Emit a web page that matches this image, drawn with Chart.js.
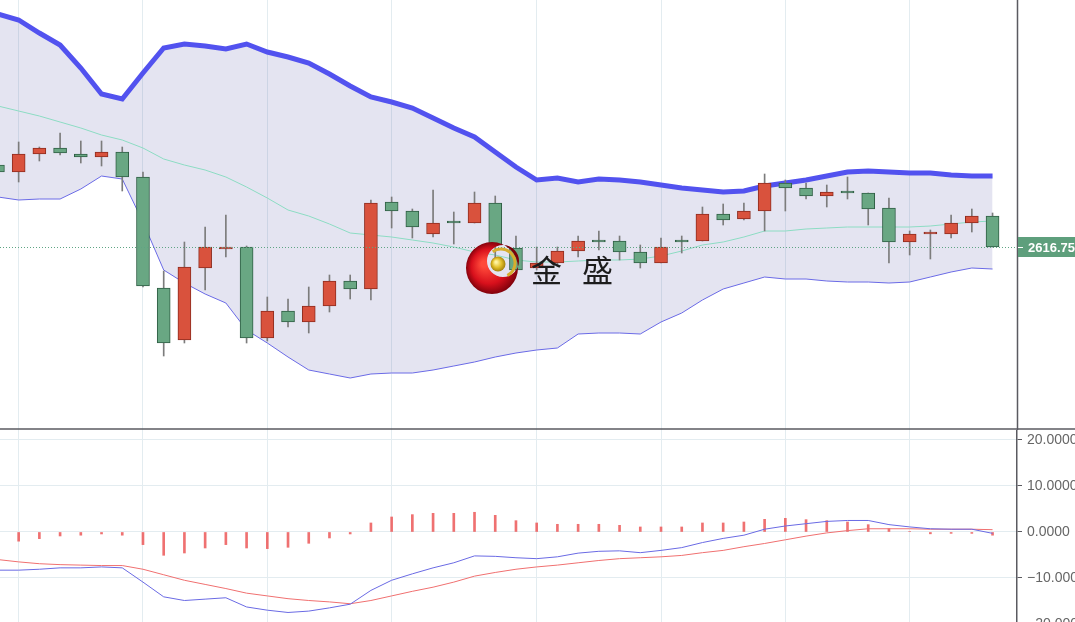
<!DOCTYPE html>
<html>
<head>
<meta charset="utf-8">
<script src="https://cdn.jsdelivr.net/npm/chart.js@4"></script>
<style>
html, body { margin: 0; padding: 0; background: #fff; overflow: hidden; }
#top { position: absolute; left: 0; top: 0; width: 1075px; height: 430px; }
#bot { position: absolute; left: 0; top: 430px; width: 1075px; height: 192px; overflow: hidden; }
</style>
</head>
<body>
<div id="top"><canvas id="price" width="1075" height="430"></canvas></div>
<div id="bot"><canvas id="macd" width="1075" height="200"></canvas></div>
<script>
// candles (red = up, green = down)
const open  = [2657.75,2654.25,2663.25,2666.25,2663.25,2661.75,2664.25,2651.75,2596.25,2570.25,
               2606.25,2615.75,2616.75,2571.25,2584.75,2579.25,2587.25,2599.75,2595.75,2639.25,
               2634.75,2623.25,2629.25,2628.75,2638.75,2616.25,2606.25,2608.75,2614.75,2619.75,
               2619.75,2614.25,2608.75,2619.75,2619.75,2633.25,2630.75,2634.75,2648.75,2646.25,
               2642.25,2644.25,2643.75,2636.25,2619.25,2623.25,2623.25,2628.75,2632.25];
const high  = [2660.25,2669.25,2666.75,2673.75,2669.75,2669.75,2666.75,2654.25,2604.75,2619.25,
               2626.75,2632.75,2617.25,2591.75,2590.75,2596.75,2602.75,2602.75,2640.25,2641.75,
               2635.75,2645.25,2634.25,2644.25,2642.25,2622.25,2616.75,2616.75,2622.25,2624.75,
               2622.25,2617.75,2621.25,2622.25,2636.75,2638.25,2638.75,2653.25,2650.25,2648.75,
               2647.75,2651.75,2643.75,2641.25,2624.75,2625.25,2632.75,2635.75,2633.75];
const low   = [2652.25,2649.25,2659.75,2662.75,2658.75,2657.25,2644.75,2596.75,2562.25,2568.75,
               2595.25,2611.75,2568.75,2569.75,2576.75,2573.75,2584.25,2590.75,2590.25,2626.25,
               2621.25,2621.75,2618.25,2628.75,2609.25,2604.25,2605.25,2607.75,2611.75,2615.25,
               2610.25,2606.25,2608.75,2613.75,2619.75,2627.75,2630.25,2624.75,2634.75,2640.75,
               2636.75,2640.75,2627.75,2608.75,2612.75,2610.75,2621.25,2624.25,2616.75];
const close = [2654.25,2663.25,2666.25,2663.75,2661.75,2664.25,2651.75,2597.25,2568.75,2606.75,
               2616.75,2616.75,2571.25,2584.75,2579.25,2587.25,2599.75,2595.75,2638.75,2634.75,
               2626.75,2628.75,2628.75,2638.75,2617.75,2605.25,2608.75,2614.75,2619.75,2619.25,
               2614.25,2608.75,2616.75,2619.25,2633.25,2630.25,2634.75,2648.75,2646.25,2642.25,
               2644.25,2643.75,2635.75,2619.25,2623.25,2624.25,2628.75,2632.25,2616.75];
const lastPrice = 2616.75;

// bollinger bands
const upper  = [2733.25,2730.25,2723.75,2717.75,2706.25,2693.25,2690.75,2703.75,2716.25,2718.25,
                2717.25,2715.75,2718.25,2714.25,2711.75,2708.75,2703.25,2697.25,2691.75,2689.25,
                2686.25,2681.25,2676.25,2671.75,2664.25,2656.75,2650.25,2651.25,2649.25,2650.75,
                2650.25,2649.25,2647.75,2646.25,2645.25,2644.25,2644.75,2647.25,2648.75,2650.25,
                2652.25,2654.25,2654.75,2654.25,2653.75,2653.75,2652.75,2652.25,2652.25];
const middle = [2687.25,2684.75,2682.25,2679.25,2676.25,2672.75,2670.25,2666.25,2660.75,2657.75,
                2655.25,2651.75,2646.75,2641.25,2635.25,2632.25,2628.25,2623.75,2622.75,2621.75,
                2620.25,2618.75,2616.75,2614.25,2612.75,2610.25,2609.25,2609.25,2609.75,2610.25,
                2610.25,2610.75,2612.25,2614.75,2617.75,2619.25,2621.75,2624.75,2624.75,2625.75,
                2626.25,2626.75,2626.75,2626.75,2626.75,2627.25,2628.25,2629.25,2629.75];
const lower  = [2641.75,2640.25,2640.75,2640.75,2645.75,2652.25,2650.75,2629.25,2605.25,2598.75,
                2593.25,2588.75,2575.25,2568.75,2561.75,2555.25,2553.25,2551.25,2553.25,2553.75,
                2553.75,2555.25,2557.25,2559.25,2561.75,2563.75,2565.25,2566.25,2573.25,2573.75,
                2573.75,2573.25,2579.25,2583.75,2590.25,2595.75,2598.75,2601.75,2600.75,2600.75,
                2599.75,2599.25,2599.25,2598.75,2599.25,2601.75,2604.25,2606.25,2605.75];

// macd panel
const hist   = [-2.3,-2.0,-1.45,-0.87,-0.7,-0.43,-0.7,-2.75,-5.07,-4.57,
                -3.48,-2.75,-3.48,-3.62,-3.33,-2.46,-1.3,-0.43,1.96,3.26,
                3.77,4.06,4.06,4.28,3.62,2.46,1.96,1.67,1.67,1.67,
                1.45,1.09,1.09,1.09,1.96,1.96,2.17,2.75,2.97,2.68,
                2.46,2.17,1.59,0.72,0.1,-0.4,-0.3,-0.3,-0.7];
const macd   = [-8.3,-8.3,-8.1,-7.8,-7.8,-7.6,-7.8,-10.9,-14.1,-14.9,
                -14.6,-14.3,-16.3,-17.0,-17.5,-17.2,-16.5,-15.7,-12.7,-10.5,
                -9.1,-7.8,-6.7,-5.2,-5.3,-5.6,-5.8,-5.4,-4.6,-4.2,
                -4.1,-4.5,-4.0,-3.4,-2.3,-1.4,-0.7,0.6,1.3,1.8,
                2.3,2.5,2.5,1.6,1.1,0.7,0.6,0.6,-0.3];
const signal = [-6.0,-6.5,-6.9,-7.1,-7.2,-7.3,-7.3,-8.1,-9.3,-10.5,
                -11.4,-12.3,-13.3,-13.9,-14.5,-14.9,-15.2,-15.6,-14.9,-13.9,
                -12.9,-12.0,-10.9,-9.6,-8.8,-8.1,-7.6,-7.2,-6.7,-6.2,
                -5.8,-5.6,-5.4,-5.1,-4.5,-4.0,-3.2,-2.5,-1.7,-0.9,
                -0.2,0.3,0.7,0.7,0.7,0.6,0.6,0.6,0.5];

// candle indexes where the vertical grid lines sit
const gridIdx = [1, 7, 13, 19, 26, 32, 38, 44];

const idx = close.map((v, i) => i);
const isUp = idx.map(i => close[i] >= open[i]);
const pts = arr => arr.map((v, i) => ({ x: i, y: v }));

Chart.defaults.font.family = 'Arial, "Liberation Sans", sans-serif';

const gridColor = '#e3ecf0';
const xScale = () => ({
  type: 'linear', min: 0.1, max: 49.18, offset: false,
  ticks: { display: false },
  grid: { color: gridColor, drawTicks: false, offset: false },
  border: { display: false },
  afterBuildTicks: s => { s.ticks = gridIdx.map(v => ({ value: v })); }
});

function drawLogo(ctx, cx, cy) {
  ctx.save();
  let g = ctx.createRadialGradient(cx - 8, cy - 4, 3, cx, cy, 27);
  g.addColorStop(0, '#ff4a3a');
  g.addColorStop(0.6, '#d8101c');
  g.addColorStop(1, '#78000a');
  ctx.beginPath();
  ctx.arc(cx, cy, 26, 0, Math.PI * 2);
  ctx.moveTo(cx + 11 + 16, cy - 7);
  ctx.arc(cx + 11, cy - 7, 16, 0, Math.PI * 2, true);
  ctx.fillStyle = g;
  ctx.fill('evenodd');

  // gold swoosh
  ctx.beginPath();
  ctx.arc(cx + 9, cy - 5, 14, -2.2, 1.1);
  ctx.strokeStyle = '#d6ae2e';
  ctx.lineWidth = 3;
  ctx.stroke();

  // gold ball
  let b = ctx.createRadialGradient(cx + 4, cy - 6, 1, cx + 6, cy - 4, 8);
  b.addColorStop(0, '#fff3a0');
  b.addColorStop(0.5, '#e2bf2a');
  b.addColorStop(1, '#9c7a08');
  ctx.beginPath();
  ctx.arc(cx + 6, cy - 4, 7.5, 0, Math.PI * 2);
  ctx.fillStyle = b;
  ctx.fill();

  ctx.fillStyle = '#1c1c1c';
  ctx.font = '31px "Noto Sans CJK SC"';
  ctx.textBaseline = 'middle';
  ctx.fillText('金', cx + 39, cy + 2);
  ctx.fillText('盛', cx + 90, cy + 2);
  ctx.restore();
}

const priceDecor = {
  id: 'priceDecor',
  afterDatasetsDraw(chart) {
    const ctx = chart.ctx, a = chart.chartArea;
    const y = Math.round(chart.scales.y.getPixelForValue(lastPrice)) + 0.5;
    ctx.save();
    ctx.strokeStyle = '#5fa584';
    ctx.lineWidth = 1;
    ctx.setLineDash([1, 2]);
    ctx.beginPath();
    ctx.moveTo(a.left, y);
    ctx.lineTo(a.right, y);
    ctx.stroke();
    ctx.restore();
  },
  afterDraw(chart) {
    const ctx = chart.ctx, a = chart.chartArea;
    const y = Math.round(chart.scales.y.getPixelForValue(lastPrice));
    drawLogo(ctx, 492, 268);
    ctx.save();
    // right axis line and panel separator
    ctx.strokeStyle = '#5a5a60';
    ctx.lineWidth = 1.5;
    ctx.beginPath();
    ctx.moveTo(a.right + 0.5, 0);
    ctx.lineTo(a.right + 0.5, chart.height);
    ctx.stroke();
    ctx.beginPath();
    ctx.moveTo(0, chart.height - 1);
    ctx.lineTo(chart.width, chart.height - 1);
    ctx.stroke();
    // last price label
    ctx.fillStyle = '#5e9f7c';
    ctx.fillRect(a.right + 1, y - 10, 60, 20);
    ctx.strokeStyle = '#fff';
    ctx.lineWidth = 1;
    ctx.beginPath();
    ctx.moveTo(a.right + 1, y + 0.5);
    ctx.lineTo(a.right + 6, y + 0.5);
    ctx.stroke();
    ctx.fillStyle = '#fff';
    ctx.font = 'bold 13px Arial';
    ctx.textBaseline = 'middle';
    ctx.fillText(lastPrice.toFixed(2), a.right + 11, y + 1);
    ctx.restore();
  }
};

new Chart(document.getElementById('price'), {
  type: 'bar',
  data: {
    datasets: [
      {
        type: 'bar',
        data: idx.map(i => ({ x: i, y: [open[i], close[i]] })),
        backgroundColor: isUp.map(u => u ? '#d9523d' : '#69a783'),
        borderColor: isUp.map(u => u ? '#8e2c1f' : '#2f5e44'),
        borderWidth: 1, borderSkipped: false,
        barThickness: 13, minBarLength: 2, grouped: false, order: 0
      },
      {
        type: 'bar',
        data: idx.map(i => ({ x: i, y: [low[i], high[i]] })),
        backgroundColor: '#7c7c7c',
        barThickness: 1, grouped: false, order: 1
      },
      {
        type: 'line', data: pts(upper),
        borderColor: '#5252ef', borderWidth: 5, pointRadius: 0, fill: false, order: 2
      },
      {
        type: 'line', data: pts(middle),
        borderColor: '#8cdcc3', borderWidth: 1, pointRadius: 0, fill: false, order: 3
      },
      {
        type: 'line', data: pts(lower),
        borderColor: '#6a6ae6', borderWidth: 1, pointRadius: 0,
        fill: 2, backgroundColor: 'rgba(90,90,170,0.16)', order: 4
      }
    ]
  },
  options: {
    responsive: false,
    animation: false,
    layout: { padding: { right: 58 } },
    plugins: { legend: { display: false }, tooltip: { enabled: false } },
    scales: {
      x: xScale(),
      y: { display: false, min: 2525.25, max: 2740.25 }
    }
  },
  plugins: [priceDecor]
});

new Chart(document.getElementById('macd'), {
  type: 'bar',
  data: {
    datasets: [
      {
        type: 'line', data: pts(macd),
        borderColor: '#6a6ae4', borderWidth: 1, pointRadius: 0, order: 0
      },
      {
        type: 'line', data: pts(signal),
        borderColor: '#f07070', borderWidth: 1, pointRadius: 0, order: 1
      },
      {
        type: 'bar', data: pts(hist),
        backgroundColor: 'rgba(236,88,88,0.85)',
        barThickness: 2, grouped: false, order: 2
      }
    ]
  },
  options: {
    responsive: false,
    animation: false,
    plugins: { legend: { display: false }, tooltip: { enabled: false } },
    scales: {
      x: xScale(),
      y: {
        position: 'right', min: -21.31, max: 22.17,
        ticks: {
          stepSize: 10, includeBounds: false, color: '#666', padding: 5,
          font: { size: 14 },
          callback: v => v.toFixed(4).replace('-', '\u2212')
        },
        grid: { color: gridColor, tickColor: '#5a5a60', tickLength: 5 },
        border: { color: '#5a5a60', width: 1.5 },
        afterFit: s => { s.width = 58; s.paddingTop = 0; s.paddingBottom = 0; }
      }
    }
  }
});
</script>
</body>
</html>
